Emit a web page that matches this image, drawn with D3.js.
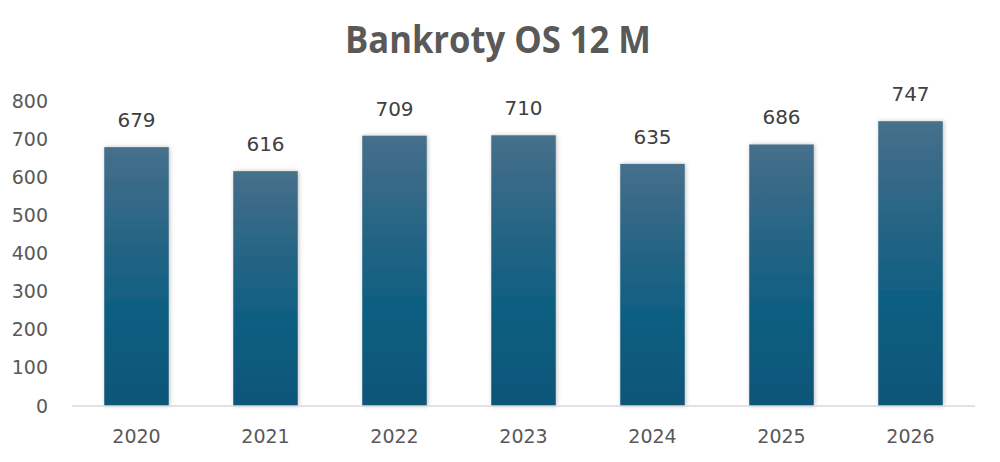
<!DOCTYPE html>
<html>
<head>
<meta charset="utf-8">
<script src="https://cdn.jsdelivr.net/npm/d3@7"></script>
<style>
  body { margin: 0; background: #fff; }
  svg { display: block; }
</style>
</head>
<body>
<svg id="chart"></svg>
<script>
const years = ['2020', '2021', '2022', '2023', '2024', '2025', '2026'];
const bankruptcies = [679, 616, 709, 710, 635, 686, 747];
const yTicks = [0, 100, 200, 300, 400, 500, 600, 700, 800];

const width = 1000;
const height = 462;
const margin = { top: 101, right: 25, bottom: 56, left: 72 };
const labelFont = '"DejaVu Sans", "Liberation Sans", sans-serif';

const svg = d3.select('#chart')
  .attr('width', width)
  .attr('height', height);

const defs = svg.append('defs');
const grad = defs.append('linearGradient')
  .attr('id', 'barGrad')
  .attr('x1', 0).attr('y1', 0).attr('x2', 0).attr('y2', 1);
grad.append('stop').attr('offset', '0%').attr('stop-color', '#476f8b');
grad.append('stop').attr('offset', '30%').attr('stop-color', '#2a6685');
grad.append('stop').attr('offset', '60%').attr('stop-color', '#115f82');
grad.append('stop').attr('offset', '100%').attr('stop-color', '#0b5678');

const shadow = defs.append('filter')
  .attr('id', 'shadow')
  .attr('x', '-20%').attr('y', '-5%').attr('width', '140%').attr('height', '110%');
shadow.append('feDropShadow')
  .attr('dx', 1).attr('dy', 0).attr('stdDeviation', 2)
  .attr('flood-color', '#000').attr('flood-opacity', 0.25);

const x = d3.scaleBand()
  .domain(years)
  .range([margin.left, width - margin.right])
  .paddingInner(0.5)
  .paddingOuter(0.25);

const y = d3.scaleLinear()
  .domain([0, 800])
  .range([height - margin.bottom, margin.top]);

// title
svg.append('text')
  .attr('x', 498)
  .attr('y', 53)
  .attr('text-anchor', 'middle')
  .attr('font-family', '"Open Sans", sans-serif')
  .attr('font-weight', 700)
  .attr('font-size', 38)
  .attr('fill', '#595959')
  .attr('textLength', 306)
  .attr('lengthAdjust', 'spacingAndGlyphs')
  .text('Bankroty OS 12 M');

// y axis (labels only)
const yAxis = svg.append('g')
  .attr('transform', `translate(${margin.left - 24},0)`)
  .call(d3.axisLeft(y).tickValues(yTicks).tickSize(0).tickPadding(0));
yAxis.select('.domain').remove();
yAxis.selectAll('text')
  .attr('font-family', labelFont)
  .attr('font-size', 19)
  .attr('fill', '#595959');

// bars
svg.append('g')
  .selectAll('rect')
  .data(bankruptcies)
  .join('rect')
  .attr('x', (d, i) => x(years[i]))
  .attr('y', d => y(d))
  .attr('width', x.bandwidth())
  .attr('height', d => y(0) - y(d))
  .attr('fill', 'url(#barGrad)')
  .attr('filter', 'url(#shadow)');

// x axis
const xAxis = svg.append('g')
  .attr('transform', `translate(0,${y(0)})`)
  .call(d3.axisBottom(x).tickSize(0).tickPadding(24));
xAxis.select('.domain')
  .attr('stroke', '#d9d9d9')
  .attr('stroke-width', 1.5)
  .attr('d', `M${margin.left},0H${width - margin.right}`);
xAxis.selectAll('text')
  .attr('font-family', labelFont)
  .attr('font-size', 19)
  .attr('fill', '#595959');

// data labels
svg.append('g')
  .selectAll('text')
  .data(bankruptcies)
  .join('text')
  .attr('x', (d, i) => x(years[i]) + x.bandwidth() / 2)
  .attr('y', d => y(d) - 20)
  .attr('text-anchor', 'middle')
  .attr('font-family', labelFont)
  .attr('font-size', 20)
  .attr('fill', '#404040')
  .text(d => d);
</script>
</body>
</html>
